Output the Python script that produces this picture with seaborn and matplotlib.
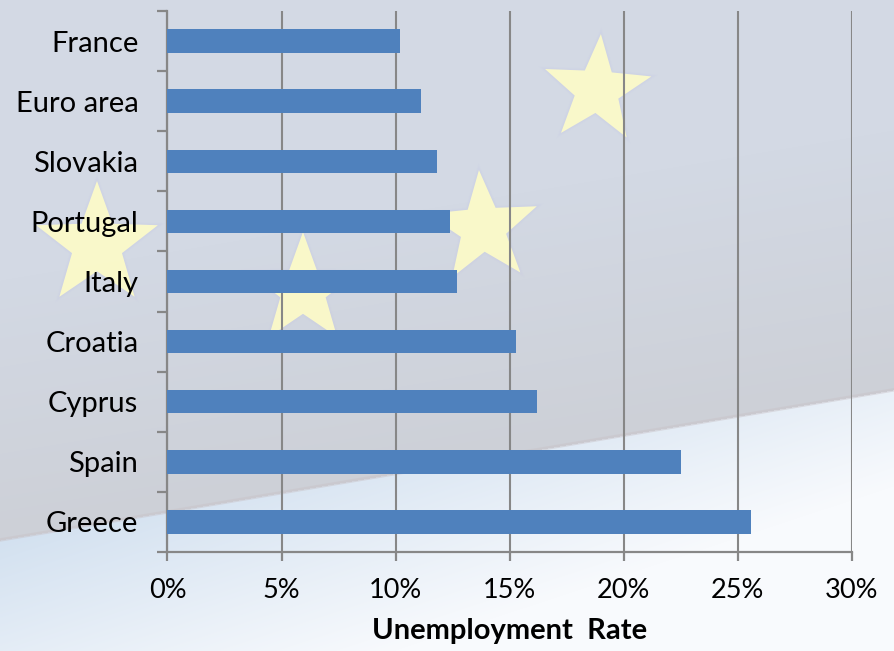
import numpy as np
import pandas as pd
import matplotlib
matplotlib.use("Agg")
import matplotlib.pyplot as plt
from matplotlib.patches import Polygon
import seaborn as sns

countries = ["France", "Euro area", "Slovakia", "Portugal", "Italy",
             "Croatia", "Cyprus", "Spain", "Greece"]
rates = [10.2, 11.1, 11.8, 12.4, 12.7, 15.3, 16.2, 22.5, 25.6]
x_ticks = [0, 5, 10, 15, 20, 25, 30]
x_tick_labels = ["0%", "5%", "10%", "15%", "20%", "25%", "30%"]
x_title = "Unemployment  Rate"

df = pd.DataFrame({"country": countries, "rate": rates})

sns.set_theme(style="white")
plt.rcParams["font.family"] = ["Lato", "DejaVu Sans"]

W, H = 895, 651
fig = plt.figure(figsize=(W / 100, H / 100), dpi=100)

# ---- decorative background (gradient + stars) ----
bg = fig.add_axes([0, 0, 1, 1], zorder=0)
bg.set_xlim(0, W)
bg.set_ylim(H, 0)
bg.axis("off")

yy, xx = np.mgrid[0:H, 0:W].astype(float)
line_y = 540 - 0.168 * xx
d = yy - line_y  # >0 below diagonal
top_far = np.array([211, 217, 228]) / 255
top_near = np.array([205, 208, 215]) / 255
bot_near = np.array([211, 225, 240]) / 255
white = np.array([248, 250, 253]) / 255
t_up = np.clip(-d / 260.0, 0, 1)[..., None]
up = top_near * (1 - t_up) + top_far * t_up
t_dn = np.clip((d / 120.0) * 0.5 + (xx / W) * 0.6, 0, 1)[..., None]
dn = bot_near * (1 - t_dn) + white * t_dn
mask = (d > 0)[..., None]
img = np.where(mask, dn, up)
bg.imshow(img, extent=(0, W, H, 0), aspect="auto", zorder=0)
xs = np.array([0, W])
bg.plot(xs, 540 - 0.168 * xs, color="#c9c3c8", lw=2.5, alpha=0.5, zorder=1)


def star(cx, cy, r, rot=0.0):
    pts = []
    for k in range(10):
        ang = np.deg2rad(-90 + rot + k * 36)
        rr = r if k % 2 == 0 else r * 0.41
        pts.append((cx + rr * np.cos(ang), cy + rr * np.sin(ang)))
    return pts


for cx, cy, r, rot in [(597, 90, 56, 4), (483, 228, 58, -4),
                       (303, 290, 58, 0), (97, 245, 64, 0)]:
    for extra, a in [(7, 0.12), (4, 0.2)]:
        bg.add_patch(Polygon(star(cx, cy, r + extra, rot), closed=True,
                             facecolor="#c9cbe6", edgecolor="none",
                             alpha=a, zorder=2))
    bg.add_patch(Polygon(star(cx, cy, r, rot), closed=True,
                         facecolor="#fdfbc8", edgecolor="none",
                         alpha=0.93, zorder=3))

# ---- main chart ----
left, right = 167.5 / W, 851.6 / W
bottom, top = 1 - 552 / H, 1 - 11 / H
ax = fig.add_axes([left, bottom, right - left, top - bottom], zorder=2)
ax.patch.set_alpha(0)

sns.barplot(data=df, x="rate", y="country", orient="h", color="#4f81bd",
            saturation=1, width=0.39, linewidth=0, ax=ax, zorder=3)

grey = "#878787"
ax.set_xlim(0, 30)
ax.set_ylim(8.5, -0.5)
ax.set_xticks(x_ticks)
ax.set_xticklabels(x_tick_labels)
ax.xaxis.grid(True, color=grey, lw=1.5)
ax.yaxis.grid(False)
ax.set_axisbelow(True)
for s in ["top", "right"]:
    ax.spines[s].set_visible(False)
for s in ["left", "bottom"]:
    ax.spines[s].set_color(grey)
    ax.spines[s].set_linewidth(1.6)

ax.tick_params(axis="y", which="major", length=0, pad=21, labelsize=21,
               labelcolor="black", left=False)
ax.set_yticks(np.arange(-0.5, 9.0, 1.0), minor=True)
ax.tick_params(axis="y", which="minor", length=7.5, width=1.6, color=grey,
               direction="out", left=True)
ax.tick_params(axis="x", which="major", length=6.5, width=1.6, color=grey,
               direction="out", pad=12, labelsize=19.5, labelcolor="black",
               bottom=True)
ax.set_ylabel("")
ax.set_xlabel(x_title, fontsize=21, fontweight="bold", color="black",
              labelpad=11)

fig.savefig("out.png", dpi=100)
